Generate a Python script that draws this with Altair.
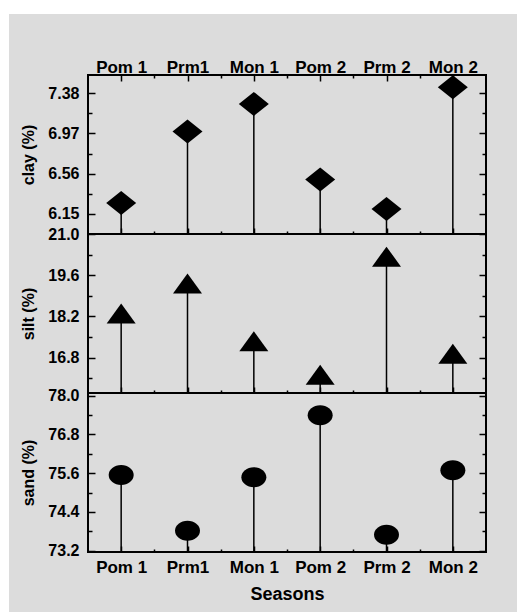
import json

import altair as alt
import pandas as pd

# Sediment texture by sampling season
seasons = ["Pom 1", "Prm1", "Mon 1", "Pom 2", "Prm 2", "Mon 2"]
clay = [6.26, 6.99, 7.27, 6.50, 6.20, 7.44]
silt = [18.30, 19.32, 17.36, 16.22, 20.23, 16.93]
sand = [75.54, 73.82, 75.47, 77.39, 73.69, 75.69]

# Labelled (major) y ticks and the visible y range of each panel
clay_ticks = [6.15, 6.56, 6.97, 7.38]
silt_ticks = [16.8, 18.2, 19.6, 21.0]
sand_ticks = [73.2, 74.4, 75.6, 76.8, 78.0]
clay_range = [5.945, 7.565]
silt_range = [15.6, 21.0]
sand_range = [73.16, 78.08]

W, H = 398, 159          # size of each panel
LEFT, TOP = 88, 75       # where the first panel sits on the page
FONT = "Liberation Sans"
BG = "#dcdcdc"

DIAMOND = "M-1,0L0,-0.8L1,0L0,0.8Z"
TRIANGLE = "M0,-0.69L1,0.69L-1,0.69Z"
ELLIPSE = ("M1,0C1,0.442,0.552,0.8,0,0.8C-0.552,0.8,-1,0.442,-1,0"
           "C-1,-0.442,-0.552,-0.8,0,-0.8C0.552,-0.8,1,-0.442,1,0Z")

x_pos = list(range(1, len(seasons) + 1))
x_minor = [p + 0.5 for p in x_pos[:-1]]
x_domain = [0.5, len(seasons) + 0.5]
xs = alt.Scale(domain=x_domain, nice=False, zero=False)
label_expr = f"{json.dumps(seasons)}[datum.value - 1]"
one_row = alt.Data(values=[{}])


def minor_ticks(major, lo):
    step = major[1] - major[0]
    mids = [round(a + step / 2, 4) for a in major[:-1]]
    below = round(major[0] - step / 2, 4)
    if below > lo + 1e-6:
        mids.insert(0, below)
    return mids


def tick_axis(major, minor, orient, offset, big, small):
    """Ticks only, pointing into the plot from the given edge."""
    test = f"indexof({json.dumps(major)}, datum.value) >= 0"
    return alt.Axis(
        orient=orient, offset=offset, values=sorted(major + minor),
        labels=False, domain=False, grid=False, ticks=True,
        tickSize={"condition": {"test": test, "value": big}, "value": small},
        tickColor="black", tickWidth=1.5, title=None, zindex=1,
    )


def panel(values, ticks, rng, fmt, title, shape, size, where):
    ys = alt.Scale(domain=rng, nice=False, zero=False)
    minors = minor_ticks(ticks, rng[0])
    df = pd.DataFrame({"season": seasons, "pos": x_pos, "value": values})

    y_labels = alt.Axis(
        orient="left", values=ticks, format=fmt, ticks=False, tickSize=0,
        domain=False, grid=False, labelPadding=9, labelFontSize=16,
        labelFlush=False, labelOverlap=False, title=title, titleFontSize=16,
        titlePadding=11, zindex=1,
    )
    if where == "top":
        x_labels = alt.Axis(
            orient="top", values=x_pos, labelExpr=label_expr, ticks=False,
            tickSize=0, domain=False, grid=False, labelFontSize=17,
            labelBaseline="alphabetic", labelPadding=2.5, labelFlush=False,
            labelOverlap=False, title=None, zindex=1,
        )
    elif where == "bottom":
        x_labels = alt.Axis(
            orient="bottom", values=x_pos, labelExpr=label_expr, ticks=False,
            tickSize=0, domain=False, grid=False, labelFontSize=17,
            labelBaseline="alphabetic", labelPadding=20, labelFlush=False,
            labelOverlap=False, title="Seasons", titleFontSize=18,
            titlePadding=10, zindex=1,
        )
    else:
        x_labels = None

    frame = alt.Chart(one_row).mark_rect(
        fill="transparent", stroke="black", strokeWidth=2
    ).encode(
        x=alt.XDatum(x_domain[0], type="quantitative", scale=xs, axis=x_labels),
        x2=alt.X2Datum(x_domain[1]),
        y=alt.YDatum(rng[0], type="quantitative", scale=ys, axis=y_labels),
        y2=alt.Y2Datum(rng[1]),
    )

    stems = alt.Chart(df).mark_rule(color="black", strokeWidth=1.5).encode(
        x=alt.X("pos:Q", scale=xs,
                axis=tick_axis(x_pos, x_minor, "top", -H, 6, 3)),
        y=alt.Y("value:Q", scale=ys,
                axis=tick_axis(ticks, minors, "right", -W, 7, 4)),
        y2=alt.Y2Datum(rng[0]),
    )

    dots = alt.Chart(df).mark_point(
        shape=shape, filled=True, fill="black", opacity=1, size=size,
        strokeWidth=0,
    ).encode(
        x=alt.X("pos:Q", scale=xs,
                axis=tick_axis(x_pos, x_minor, "bottom", -H, 6, 3)
                if where == "top" else None),
        y=alt.Y("value:Q", scale=ys,
                axis=tick_axis(ticks, minors, "left", -W, 7, 4)),
        tooltip=["season", "value"],
    )

    layers = [frame, stems, dots]
    if where == "top":
        # grey figure backdrop reaching past the panels
        backdrop = alt.Chart(one_row).mark_rect(color=BG).encode(
            x=alt.value(9 - LEFT), x2=alt.value(517 - LEFT),
            y=alt.value(14 - TOP), y2=alt.value(612 - TOP),
        )
        layers = [backdrop] + layers

    return (
        alt.layer(*layers)
        .resolve_axis(x="independent", y="independent")
        .properties(width=W, height=H)
    )


top = panel(clay, clay_ticks, clay_range, ".2f", "clay (%)", DIAMOND, 900, "top")
mid = panel(silt, silt_ticks, silt_range, ".1f", "silt (%)", TRIANGLE, 841, "mid")
bot = panel(sand, sand_ticks, sand_range, ".1f", "sand (%)", ELLIPSE, 625, "bottom")

chart = (
    alt.vconcat(top, mid, bot, spacing=0, bounds="flush")
    .properties(
        background="white",
        padding={"left": 9, "top": 14, "right": 9, "bottom": 2},
    )
    .configure_view(strokeWidth=0)
    .configure_axis(
        labelFont=FONT, titleFont=FONT, labelFontWeight="bold",
        titleFontWeight="bold", labelColor="black", titleColor="black",
    )
)

chart.save("out.html", embed_options={"renderer": "svg", "actions": False})
